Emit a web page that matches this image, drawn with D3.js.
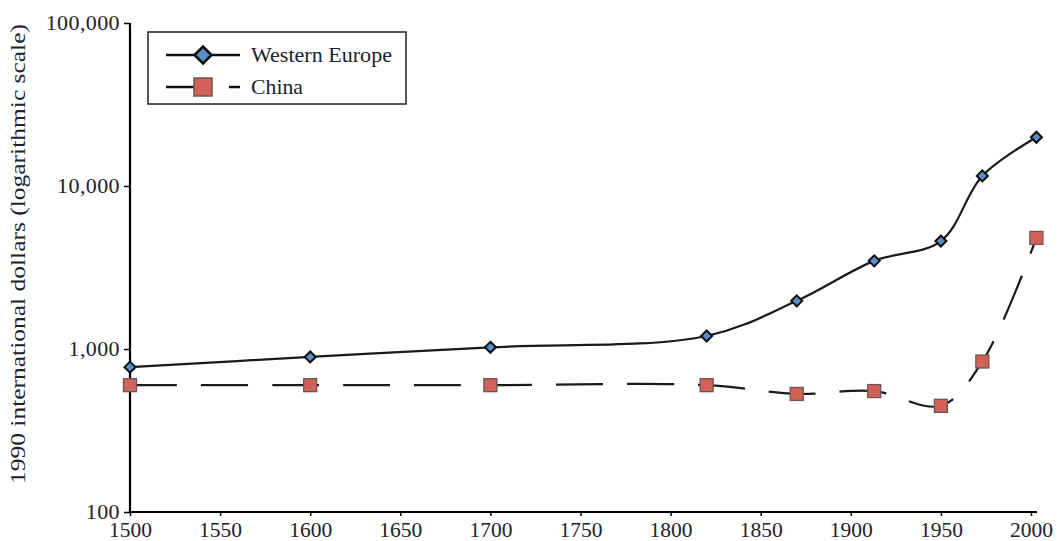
<!DOCTYPE html>
<html>
<head>
<meta charset="utf-8">
<script src="https://cdn.jsdelivr.net/npm/d3@7"></script>
<style>
  body { margin: 0; background: #fff; }
  svg text { font-family: "Liberation Serif", "DejaVu Serif", serif; fill: #22222c; }
</style>
</head>
<body>
<svg id="chart" width="1063" height="541"></svg>
<script>
// GDP per capita, 1990 international dollars
const years = [1500, 1600, 1700, 1820, 1870, 1913, 1950, 1973, 2003];
const westernEurope = [774, 894, 1024, 1202, 1974, 3473, 4594, 11534, 19912];
const china = [600, 600, 600, 600, 530, 552, 448, 838, 4803];
const xTicks = [1500, 1550, 1600, 1650, 1700, 1750, 1800, 1850, 1900, 1950, 2000];
const yTicks = [100, 1000, 10000, 100000];
const seriesNames = ["Western Europe", "China"];

const svg = d3.select("#chart");
const plotLeft = 130, plotRight = 1037, plotTop = 23, plotBottom = 512;

const x = d3.scaleLinear().domain([1500, 2000]).range([plotLeft, 1031]);
const y = d3.scaleLog().domain([100, 100000]).range([plotBottom, plotTop]);

// Axes
const fmt = d3.format(",");
const yAxis = svg.append("g").attr("transform", `translate(${plotLeft},0)`)
  .call(d3.axisLeft(y).tickValues(yTicks).tickFormat(fmt).tickSize(6).tickSizeOuter(0));
const xAxis = svg.append("g").attr("transform", `translate(0,${plotBottom})`)
  .call(d3.axisBottom(x).tickValues(xTicks).tickFormat(d3.format("d")).tickSize(4).tickSizeOuter(0));

yAxis.select(".domain").attr("stroke", "#000").attr("stroke-width", 2.2)
  .attr("d", `M0,${plotTop}V${plotBottom + 1}`);
xAxis.select(".domain").attr("stroke", "#000").attr("stroke-width", 2.2)
  .attr("d", `M${plotLeft - 1},0H${plotRight}`);
svg.selectAll(".tick line").attr("stroke", "#000").attr("stroke-width", 1.5);
yAxis.selectAll("text").attr("font-size", 22).attr("letter-spacing", "0.4px")
  .attr("dx", "-1px").attr("dy", "0.28em");
xAxis.selectAll("text").attr("font-size", 21.5).attr("dy", "0.82em");

// Y axis title
svg.append("text")
  .attr("transform", `translate(25,254) rotate(-90)`)
  .attr("text-anchor", "middle")
  .attr("font-size", 22)
  .attr("textLength", 460)
  .attr("lengthAdjust", "spacingAndGlyphs")
  .text("1990 international dollars (logarithmic scale)");

const line = d3.line()
  .x((d, i) => x(years[i]))
  .y(d => y(d))
  .curve(d3.curveCatmullRom.alpha(0.5));

// Western Europe
svg.append("path").datum(westernEurope)
  .attr("d", line).attr("fill", "none").attr("stroke", "#1a1a1a").attr("stroke-width", 2.2);

// China (dashed)
svg.append("path").datum(china)
  .attr("d", line).attr("fill", "none").attr("stroke", "#1a1a1a").attr("stroke-width", 2.2)
  .attr("stroke-dasharray", "47,24");

const diamond = s => `M0,${-s}L${s},0L0,${s}L${-s},0Z`;

svg.append("g").selectAll("path").data(westernEurope).join("path")
  .attr("transform", (d, i) => `translate(${x(years[i])},${y(d)})`)
  .attr("d", diamond(5.5))
  .attr("fill", "#5b8fc4").attr("stroke", "#0d0d14").attr("stroke-width", 2);

svg.append("g").selectAll("rect").data(china).join("rect")
  .attr("x", (d, i) => x(years[i]) - 6.5)
  .attr("y", d => y(d) - 6.5)
  .attr("width", 13).attr("height", 13)
  .attr("fill", "#d2615a").attr("stroke", "#6e5552").attr("stroke-width", 1.3);

// Legend
const lg = svg.append("g");
lg.append("rect").attr("x", 148).attr("y", 32).attr("width", 258).attr("height", 72)
  .attr("fill", "#fff").attr("stroke", "#222").attr("stroke-width", 1.5);
lg.append("line").attr("x1", 166).attr("x2", 240).attr("y1", 55).attr("y2", 55)
  .attr("stroke", "#111").attr("stroke-width", 2.5);
lg.append("path").attr("transform", "translate(203,55)").attr("d", diamond(8.5))
  .attr("fill", "#5b8fc4").attr("stroke", "#0d0d14").attr("stroke-width", 2.5);
lg.append("text").attr("x", 251).attr("y", 62).attr("font-size", 21)
  .attr("textLength", 141).attr("lengthAdjust", "spacingAndGlyphs").text(seriesNames[0]);

lg.append("line").attr("x1", 166).attr("x2", 195).attr("y1", 87).attr("y2", 87)
  .attr("stroke", "#111").attr("stroke-width", 2.5);
lg.append("line").attr("x1", 229).attr("x2", 240).attr("y1", 87).attr("y2", 87)
  .attr("stroke", "#111").attr("stroke-width", 2.5);
lg.append("rect").attr("x", 194).attr("y", 78).attr("width", 18).attr("height", 18)
  .attr("fill", "#d2615a").attr("stroke", "#6e5552").attr("stroke-width", 1.5);
lg.append("text").attr("x", 251).attr("y", 94).attr("font-size", 21)
  .attr("textLength", 52).attr("lengthAdjust", "spacingAndGlyphs").text(seriesNames[1]);
</script>
</body>
</html>
